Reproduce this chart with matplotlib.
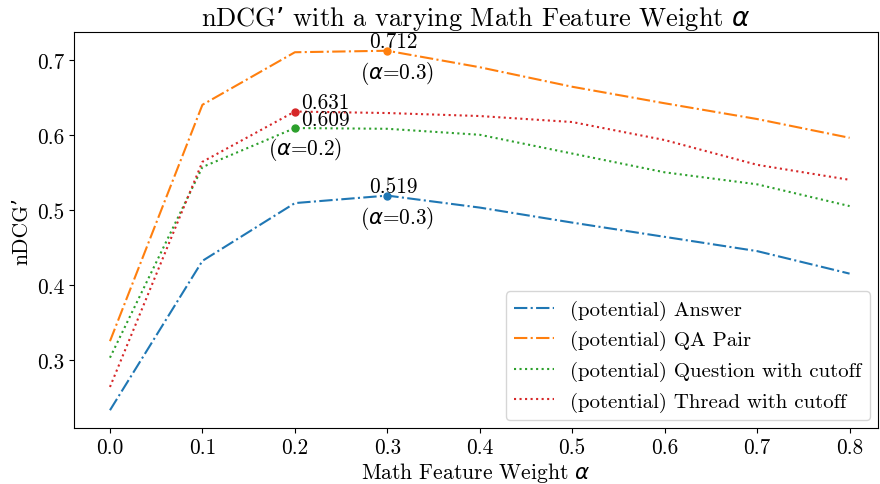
import matplotlib
matplotlib.use("Agg")
import matplotlib.pyplot as plt

plt.rcParams['font.family'] = ['cmr10', 'DejaVu Serif']
plt.rcParams['mathtext.fontset'] = 'dejavusans'
plt.rcParams['axes.formatter.use_mathtext'] = True

alpha = [0.0, 0.1, 0.2, 0.3, 0.4, 0.5, 0.6, 0.7, 0.8]
answer = [0.233, 0.432, 0.509, 0.519, 0.503, 0.483, 0.464, 0.445, 0.415]
qa_pair = [0.325, 0.640, 0.710, 0.712, 0.690, 0.664, 0.642, 0.621, 0.596]
question = [0.303, 0.557, 0.609, 0.608, 0.600, 0.575, 0.550, 0.534, 0.505]
thread = [0.264, 0.564, 0.631, 0.629, 0.625, 0.617, 0.593, 0.560, 0.540]

labels = ["(potential) Answer", "(potential) QA Pair",
          "(potential) Question with cutoff", "(potential) Thread with cutoff"]

fig = plt.figure(figsize=(8.8, 4.85), dpi=100)
ax = fig.add_axes([0.084, 0.115, 0.914, 0.817])

series = [answer, qa_pair, question, thread]
styles = ['-.', '-.', ':', ':']
colors = ['#1f77b4', '#ff7f0e', '#2ca02c', '#d62728']
for s, ls, c, lab in zip(series, styles, colors, labels):
    ax.plot(alpha, s, linestyle=ls, color=c, linewidth=1.5, label=lab)

# peak markers and annotations
peaks = [(0, 3), (1, 3), (2, 2), (3, 2)]
for si, idx in peaks:
    ax.plot(alpha[idx], series[si][idx], 'o', color=colors[si], markersize=5)

FS = 15.3

def top(si, idx, dx, dy):
    ax.annotate(f"{series[si][idx]:.3f}", (alpha[idx], series[si][idx]),
                xytext=(dx, dy), textcoords='offset points',
                ha='center', va='center', fontsize=FS)

def below(si, idx, dx, dy):
    ax.annotate(r"($\alpha$=" + f"{alpha[idx]:.1f})", (alpha[idx], series[si][idx]),
                xytext=(dx, dy), textcoords='offset points',
                ha='center', va='center', fontsize=FS)

top(1, 3, 4, 7)
below(1, 3, 7, -16)
top(0, 3, 4, 7)
below(0, 3, 7, -16)
top(3, 2, 22, 7)
top(2, 2, 22, 6)
below(2, 2, 7, -14.5)

ax.set_xticks([0.0, 0.1, 0.2, 0.3, 0.4, 0.5, 0.6, 0.7, 0.8])
ax.set_xticklabels(["0.0", "0.1", "0.2", "0.3", "0.4", "0.5", "0.6", "0.7", "0.8"])
ax.set_yticks([0.3, 0.4, 0.5, 0.6, 0.7])
ax.set_yticklabels(["0.3", "0.4", "0.5", "0.6", "0.7"])
ax.set_xlim(-0.039, 0.831)
ax.set_ylim(0.209, 0.737)
ax.tick_params(labelsize=FS)
ax.set_xlabel(r"Math Feature Weight $\alpha$", fontsize=15.5, labelpad=2)
ax.set_ylabel("nDCG’", fontsize=15.5)
ax.set_title(r"nDCG’ with a varying Math Feature Weight $\alpha$", fontsize=19, pad=4)
ax.legend(loc='lower right', fontsize=15, borderaxespad=0.4, handlelength=1.9)

fig.savefig("out.png", dpi=100)
